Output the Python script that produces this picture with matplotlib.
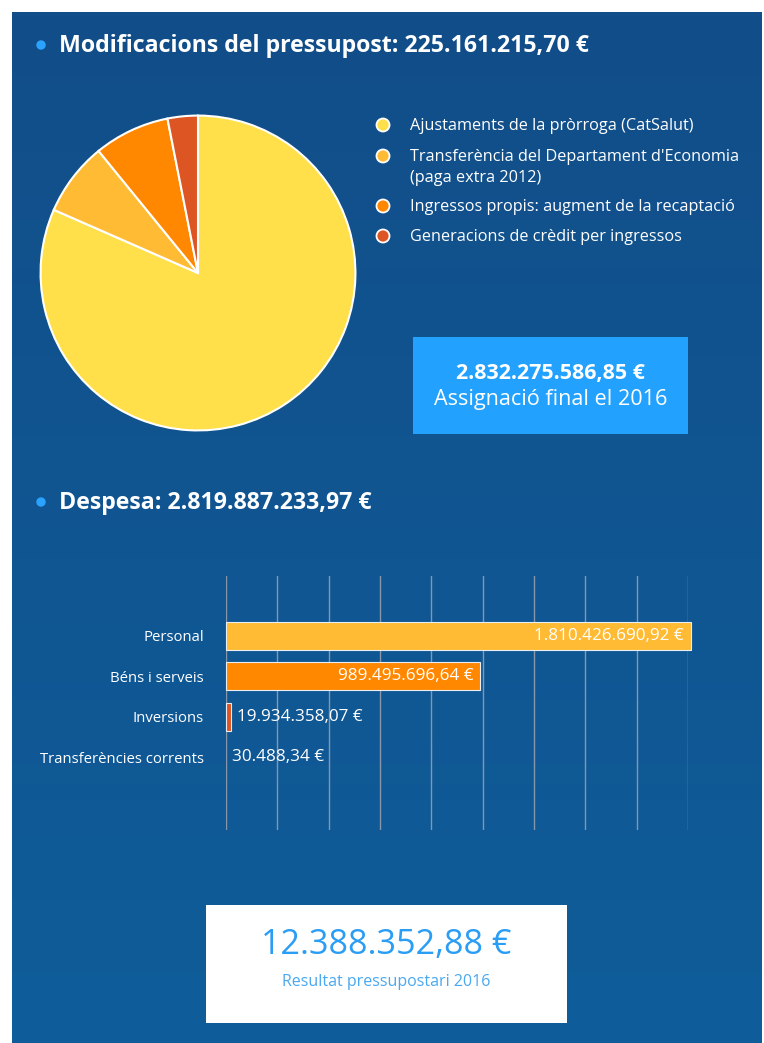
import matplotlib
matplotlib.use("Agg")
import matplotlib.pyplot as plt
import numpy as np
from matplotlib.colors import LinearSegmentedColormap
from matplotlib.patches import Rectangle, Circle

plt.rcParams["font.family"] = ["Open Sans", "DejaVu Sans"]

W, H = 764, 1043

# --- data ---------------------------------------------------------------
pie_labels = [
    "Ajustaments de la pròrroga (CatSalut)",
    "Transferència del Departament d'Economia",
    "Ingressos propis: augment de la recaptació",
    "Generacions de crèdit per ingressos",
]
pie_label_extra = "(paga extra 2012)"
pie_values = [183.7e6, 17.0e6, 17.5e6, 7.0e6]
pie_colors = ["#FFE04A", "#FFBB33", "#FF8800", "#DD5522"]

bar_labels = ["Personal", "Béns i serveis", "Inversions", "Transferències corrents"]
bar_values = [1810426690.92, 989495696.64, 19934358.07, 30488.34]
bar_text = ["1.810.426.690,92 €", "989.495.696,64 €", "19.934.358,07 €", "30.488,34 €"]
bar_colors = ["#FFBB33", "#FF8800", "#DD5522", "#FFE04A"]

title_mod = "Modificacions del pressupost: 225.161.215,70 €"
title_desp = "Despesa: 2.819.887.233,97 €"
assign_value = "2.832.275.586,85 €"
assign_label = "Assignació final el 2016"
result_value = "12.388.352,88 €"
result_label = "Resultat pressupostari 2016"

# --- figure & background --------------------------------------------------
fig = plt.figure(figsize=(W / 100, H / 100), dpi=100)
fig.patch.set_facecolor("white")

bg = fig.add_axes([0, 0, 1, 1])
bg.set_xlim(0, W)
bg.set_ylim(H, 0)
bg.axis("off")

grad = LinearSegmentedColormap.from_list("bg", ["#124E89", "#0E5D9A"])
bg.imshow(np.linspace(0, 1, 200).reshape(-1, 1), cmap=grad, aspect="auto",
          extent=(12, 762, H, 12), zorder=0)

# section headings with bullets
for y, txt in [(45, title_mod), (502, title_desp)]:
    bg.add_patch(Circle((41, y), 4, color="#2AA3FF", zorder=2))
    bg.text(59, y + 1, txt, color="white", fontsize=16.7, fontweight="bold",
            va="center", ha="left", zorder=3)

# legend of the pie
leg_y = [125, 156, 206, 236]
for y, lab, c in zip(leg_y, pie_labels, pie_colors):
    bg.add_patch(Circle((383, y), 6.5, facecolor=c, edgecolor="white", lw=1.3, zorder=3))
    bg.text(410, y + 1, lab, color="white", fontsize=11.7, va="center", ha="left", zorder=3)
bg.text(410, leg_y[1] + 22, pie_label_extra, color="white", fontsize=11.7,
        va="center", ha="left", zorder=3)

# assignment box
bg.add_patch(Rectangle((413, 337), 275, 97, facecolor="#22A1FF", edgecolor="none", zorder=2))
bg.text(550.5, 374, assign_value, color="white", fontsize=15.4, fontweight="bold",
        ha="center", va="center", zorder=3)
bg.text(550.5, 400, assign_label, color="white", fontsize=15.6,
        ha="center", va="center", zorder=3)

# result box
bg.add_patch(Rectangle((206, 905), 361, 118, facecolor="white", edgecolor="none", zorder=2))
bg.text(386.5, 945, result_value, color="#2A9DF4", fontsize=24.6,
        ha="center", va="center", zorder=3)
bg.text(386.5, 982, result_label, color="#4AA8F0", fontsize=11.5,
        ha="center", va="center", zorder=3)

# --- pie ----------------------------------------------------------------
cx, cy, r = 198, 273, 159
pax = fig.add_axes([(cx - r) / W, 1 - (cy + r) / H, 2 * r / W, 2 * r / H])
pax.pie(pie_values, colors=pie_colors, startangle=90, counterclock=False,
        wedgeprops=dict(edgecolor="white", linewidth=1.5))
pax.set_xlim(-1.01, 1.01)
pax.set_ylim(-1.01, 1.01)
pax.set_aspect("equal")
pax.axis("off")

# --- bars ---------------------------------------------------------------
x0, x1, y0, y1 = 226, 688, 576, 830
bax = fig.add_axes([x0 / W, 1 - y1 / H, (x1 - x0) / W, (y1 - y0) / H])
bax.patch.set_alpha(0)
ypos = np.arange(len(bar_values))
bars = bax.barh(ypos, bar_values, height=0.7, color=bar_colors, edgecolor="#E8EEF4",
                linewidth=0.8, clip_on=False, zorder=3)
bars[-1].set_linewidth(0)
bax.set_xlim(0, 1.8e9)
bax.set_ylim(4.8, -1.48)
bax.set_xticks(np.arange(0, 1.8e9 + 1, 2e8))
bax.xaxis.grid(True, color="#8796AA", linewidth=1)
bax.set_axisbelow(True)
bax.tick_params(axis="x", length=0, labelbottom=False)
bax.tick_params(axis="y", length=0, pad=16, labelsize=10.7, labelcolor="white")
bax.set_yticks(ypos)
bax.set_yticklabels(bar_labels)
for s in bax.spines.values():
    s.set_visible(False)

for i, (v, t) in enumerate(zip(bar_values, bar_text)):
    if v > 5e8:
        bax.text(v - 2.6e7, i, t, color="white", fontsize=12.3,
                 ha="right", va="center", zorder=4)
    else:
        bax.text(v + 2.2e7, i, t, color="white", fontsize=12.3,
                 ha="left", va="center", zorder=4)

fig.savefig("out.png", dpi=100, facecolor=fig.get_facecolor())
